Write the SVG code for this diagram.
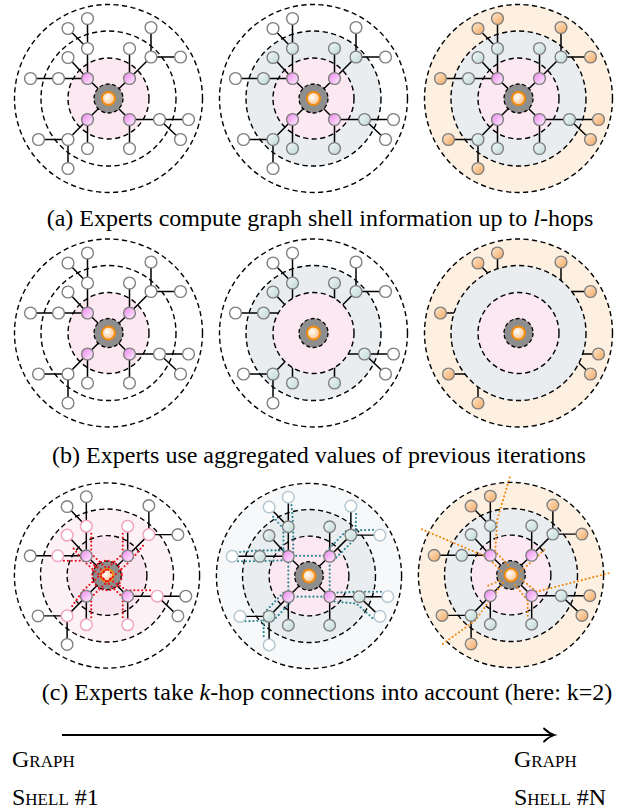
<svg xmlns="http://www.w3.org/2000/svg" xmlns:xlink="http://www.w3.org/1999/xlink" width="621" height="811" viewBox="0 0 621 811">
<style>
.ring{fill:none;stroke:#000;stroke-width:1.4;stroke-dasharray:5.2 3.4}
.edge{fill:none;stroke:#000;stroke-width:1.5}
.cap{font-family:"Liberation Serif","Times New Roman",serif;font-size:24px;fill:#000}
.sc{font-family:"Liberation Serif","Times New Roman",serif;font-size:24px;font-variant:small-caps;fill:#000}
.dotR{fill:none;stroke:#e8101a;stroke-width:2.2;stroke-linecap:round;stroke-dasharray:0 4}
.dotT{fill:none;stroke:#2b8592;stroke-width:2.2;stroke-linecap:round;stroke-dasharray:0 4}
.dotO{fill:none;stroke:#f28a12;stroke-width:2.2;stroke-linecap:round;stroke-dasharray:0 4}
</style>
<defs>
<linearGradient id="gPink" x1="0" y1="0" x2="1" y2="1"><stop offset="0" stop-color="#ec86ec"/><stop offset="1" stop-color="#fff0ff"/></linearGradient>
<linearGradient id="gTeal" x1="0" y1="0" x2="1" y2="1"><stop offset="0" stop-color="#f1f8f7"/><stop offset="1" stop-color="#bfd9d6"/></linearGradient>
<linearGradient id="gOrange" x1="0" y1="0" x2="1" y2="1"><stop offset="0" stop-color="#fee9d2"/><stop offset="1" stop-color="#f4a860"/></linearGradient>
<radialGradient id="gCenter" cx="0.4" cy="0.4" r="0.65"><stop offset="0" stop-color="#ffffff"/><stop offset="1" stop-color="#f8bd80"/></radialGradient>
<path id="e1" class="edge" d="M0,0L-21,-20M0,0L21,-20M0,0L-21,21M0,0L21,21"/>
<path id="e2" class="edge" d="M-21,-20L-21,-50M-21,-20L-40.5,-41M-21,-20L-50,-20M21,-20L21,-50M21,-20L42.5,-41.5M21,21L51,21M21,21L21,50M-21,21L-21,50M-21,21L-40.5,41"/>
<path id="e3" class="edge" d="M-21,-50L-21,-80M-21,-50L-40.5,-70M-50,-20L-78,-20M42.5,-41.5L42.5,-71M42.5,-41.5L72,-41.5M51,21L80,21M51,21L72,41M-40.5,41L-70,41M-40.5,41L-40.5,70"/>
<g id="rings"><circle class="ring" r="40.5"/><circle class="ring" r="67.5"/><circle class="ring" r="94"/></g>
<g id="core"><circle r="14.5" fill="#8e8e8e" stroke="#000" stroke-width="1.3" stroke-dasharray="4 2.5"/><circle r="6.5" fill="url(#gCenter)" stroke="#f28a0c" stroke-width="2"/></g>
<g id="n1"><circle cx="-21" cy="-20" r="5.9"/><circle cx="21" cy="-20" r="5.9"/><circle cx="-21" cy="21" r="5.9"/><circle cx="21" cy="21" r="5.9"/></g>
<g id="n2"><circle cx="-21" cy="-50" r="5.9"/><circle cx="-40.5" cy="-41" r="5.9"/><circle cx="-50" cy="-20" r="5.9"/><circle cx="21" cy="-50" r="5.9"/><circle cx="42.5" cy="-41.5" r="5.9"/><circle cx="51" cy="21" r="5.9"/><circle cx="21" cy="50" r="5.9"/><circle cx="-21" cy="50" r="5.9"/><circle cx="-40.5" cy="41" r="5.9"/></g>
<g id="n3"><circle cx="-21" cy="-80" r="5.9"/><circle cx="-40.5" cy="-70" r="5.9"/><circle cx="-78" cy="-20" r="5.9"/><circle cx="42.5" cy="-71" r="5.9"/><circle cx="72" cy="-41.5" r="5.9"/><circle cx="80" cy="21" r="5.9"/><circle cx="72" cy="41" r="5.9"/><circle cx="-70" cy="41" r="5.9"/><circle cx="-40.5" cy="70" r="5.9"/></g>
</defs>
<rect width="621" height="811" fill="#fff"/>

<!-- Row (a) -->
<g id="panel-a1" transform="translate(108.5,98.5)">
<circle r="40.5" fill="#fbe8f0"/>
<use href="#e1"/><use href="#e2"/><use href="#e3"/>
<use href="#rings"/><use href="#core"/>
<use href="#n1" fill="url(#gPink)" stroke="#808080" stroke-width="1.4"/>
<use href="#n2" fill="#fff" stroke="#808080" stroke-width="1.4"/>
<use href="#n3" fill="#fff" stroke="#808080" stroke-width="1.4"/>
</g>
<g id="panel-a2" transform="translate(313.5,98.5)">
<circle r="67.5" fill="#e9edf0"/><circle r="40.5" fill="#fbe8f0"/>
<use href="#e1"/><use href="#e2"/><use href="#e3"/>
<use href="#rings"/><use href="#core"/>
<use href="#n1" fill="url(#gPink)" stroke="#808080" stroke-width="1.4"/>
<use href="#n2" fill="url(#gTeal)" stroke="#808080" stroke-width="1.4"/>
<use href="#n3" fill="#fff" stroke="#808080" stroke-width="1.4"/>
</g>
<g id="panel-a3" transform="translate(518.5,98.5)">
<circle r="94" fill="#fdf0e1"/><circle r="67.5" fill="#e9edf0"/><circle r="40.5" fill="#fbe8f0"/>
<use href="#e1"/><use href="#e2"/><use href="#e3"/>
<use href="#rings"/><use href="#core"/>
<use href="#n1" fill="url(#gPink)" stroke="#808080" stroke-width="1.4"/>
<use href="#n2" fill="url(#gTeal)" stroke="#808080" stroke-width="1.4"/>
<use href="#n3" fill="url(#gOrange)" stroke="#808080" stroke-width="1.4"/>
</g>
<text class="cap" x="320" y="226" text-anchor="middle">(a) Experts compute graph shell information up to <tspan font-style="italic">l</tspan>-hops</text>

<!-- Row (b) -->
<g id="panel-b1" transform="translate(108.5,333)">
<circle r="40.5" fill="#fbe8f0"/>
<use href="#e1"/><use href="#e2"/><use href="#e3"/>
<use href="#rings"/><use href="#core"/>
<use href="#n1" fill="url(#gPink)" stroke="#808080" stroke-width="1.4"/>
<use href="#n2" fill="#fff" stroke="#808080" stroke-width="1.4"/>
<use href="#n3" fill="#fff" stroke="#808080" stroke-width="1.4"/>
</g>
<g id="panel-b2" transform="translate(313.5,333)">
<circle r="67.5" fill="#e9edf0"/>
<use href="#e2"/><use href="#e3"/>
<circle r="40.5" fill="#fbe8f0"/>
<use href="#rings"/><use href="#core"/>
<use href="#n2" fill="url(#gTeal)" stroke="#808080" stroke-width="1.4"/>
<use href="#n3" fill="#fff" stroke="#808080" stroke-width="1.4"/>
</g>
<g id="panel-b3" transform="translate(518.5,333)">
<circle r="94" fill="#fdf0e1"/>
<use href="#e3"/>
<circle r="67.5" fill="#e9edf0"/><circle r="40.5" fill="#fbe8f0"/>
<use href="#rings"/><use href="#core"/>
<use href="#n3" fill="url(#gOrange)" stroke="#808080" stroke-width="1.4"/>
</g>
<text class="cap" x="319" y="463" text-anchor="middle">(b) Experts use aggregated values of previous iterations</text>

<!-- Row (c) -->
<g id="panel-c1" transform="translate(107,575.5) scale(0.985)">
<circle r="67.5" fill="#fcf1f5"/><circle r="40.5" fill="#f9e5ee"/>
<use href="#e1"/><use href="#e2"/><use href="#e3"/>
<use href="#rings"/><use href="#core"/>
<g class="dotR">
<circle r="15"/>
<polyline points="4,-3 -16,-22 -16,-45"/>
<polyline points="-3,4 -24,-15 -36,-30"/>
<polyline points="-3,-4 -20,-15 -45,-15"/>
<polyline points="-4,-3 16,-22 16,-45"/>
<polyline points="3,4 24,-15 38,-32"/>
<polyline points="4,3 -16,22 -16,45"/>
<polyline points="-3,-4 -24,15 -36,32"/>
<polyline points="-4,3 16,22 16,45"/>
<polyline points="3,4 20,15 46,15"/>
</g>
<use href="#n1" fill="url(#gPink)" stroke="#808080" stroke-width="1.4"/>
<use href="#n2" fill="#fff" stroke="#f2a5c2" stroke-width="1.5"/>
<use href="#n3" fill="#fff" stroke="#808080" stroke-width="1.4"/>
</g>
<g id="panel-c2" transform="translate(309,576) scale(0.985)">
<circle r="94" fill="#f6f8f9"/><circle r="67.5" fill="#e9edf0"/><circle r="40.5" fill="#fbe8f0"/>
<use href="#e1"/><use href="#e2"/><use href="#e3"/>
<use href="#rings"/><use href="#core"/>
<g class="dotT">
<rect x="-21" y="-20.5" width="42" height="41.5"/>
<polyline points="-16,-24 -16,-52 -18,-74"/>
<polyline points="-26,-24 -26,-48 -38,-62"/>
<polyline points="-24,-16 -50,-15 -74,-15"/>
<polyline points="-26,-26 -52,-26 -74,-24"/>
<polyline points="25,-16 47,-38 48,-66"/>
<polyline points="18,-25 38,-46 68,-47"/>
<polyline points="25,17 50,16 76,16"/>
<polyline points="26,26 48,28 66,44"/>
<polyline points="-17,25 -36,45 -66,46"/>
<polyline points="-26,17 -46,38 -46,64"/>
</g>
<use href="#n1" fill="url(#gPink)" stroke="#808080" stroke-width="1.4"/>
<use href="#n2" fill="url(#gTeal)" stroke="#808080" stroke-width="1.4"/>
<use href="#n3" fill="#fff" stroke="#b6c8d3" stroke-width="1.5"/>
</g>
<g id="panel-c3" transform="translate(511,575) scale(0.985)">
<circle r="94" fill="#fdf0e1"/><circle r="67.5" fill="#e9edf0"/><circle r="40.5" fill="#fbe8f0"/>
<use href="#e1"/><use href="#e2"/><use href="#e3"/>
<use href="#rings"/><use href="#core"/>
<g class="dotO">
<polyline points="-3,-10 -16,-24 -14,-56 -1,-100"/>
<polyline points="-10,-4 -24,-18 -92,-47"/>
<polyline points="10,4 26,17 100,-2"/>
<polyline points="-8,8 -22,26 -36,46 -72,72"/>
<polyline points="4,10 17,26 17,44"/>
<polyline points="10,-4 25,-17 36,-28"/>
<polyline points="-12,6 -26,12"/>
</g>
<use href="#n1" fill="url(#gPink)" stroke="#808080" stroke-width="1.4"/>
<use href="#n2" fill="url(#gTeal)" stroke="#808080" stroke-width="1.4"/>
<use href="#n3" fill="url(#gOrange)" stroke="#808080" stroke-width="1.4"/>
</g>
<text class="cap" x="327" y="700" text-anchor="middle">(c) Experts take <tspan font-style="italic">k</tspan>-hop connections into account (here: k=2)</text>

<!-- Arrow -->
<g id="connectors">
<line x1="62" y1="735" x2="553" y2="735" stroke="#000" stroke-width="1.8"/>
<path d="M544,728.5 Q549,733.5 554.5,735 Q549,736.5 544,741.5" fill="none" stroke="#000" stroke-width="1.8" stroke-linecap="round"/>
</g>
<text class="sc" x="12" y="767">Graph</text>
<text class="sc" x="12" y="805">Shell #1</text>
<text class="sc" x="514" y="767">Graph</text>
<text class="sc" x="514" y="805">Shell #N</text>
</svg>
